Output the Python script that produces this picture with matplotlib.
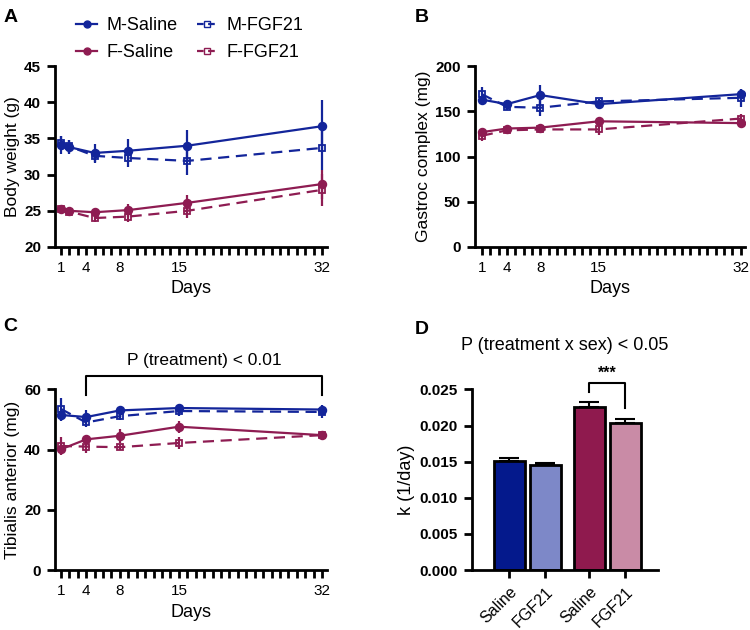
import matplotlib.pyplot as plt
from matplotlib.lines import Line2D

plt.rcParams['font.family'] = ['Liberation Sans', 'DejaVu Sans']

# ---- data ----
days_a = [1, 2, 5, 9, 16, 32]
days_bc = [1, 4, 8, 15, 32]

# A: body weight (g)
bw_m_sal = [34.1, 33.8, 33.0, 33.3, 34.0, 36.7]
bw_m_sal_err = [1.2, 1.0, 1.2, 1.6, 2.2, 3.6]
bw_m_fgf = [34.4, 33.9, 32.6, 32.3, 31.9, 33.7]
bw_m_fgf_err = [1.0, 0.9, 1.0, 1.3, 1.9, 3.0]
bw_f_sal = [25.2, 25.0, 24.8, 25.1, 26.1, 28.7]
bw_f_sal_err = [0.5, 0.5, 0.6, 0.9, 1.1, 2.0]
bw_f_fgf = [25.3, 24.9, 24.0, 24.2, 25.0, 27.9]
bw_f_fgf_err = [0.5, 0.5, 0.5, 0.8, 1.0, 2.2]

# B: gastroc complex (mg)
gc_m_sal = [163, 158, 168, 158, 169]
gc_m_sal_err = [3, 3, 11, 3, 6]
gc_m_fgf = [169, 155, 154, 161, 165]
gc_m_fgf_err = [8, 4, 9, 3, 10]
gc_f_sal = [127, 131, 132, 139, 137]
gc_f_sal_err = [5, 3, 3, 3, 5]
gc_f_fgf = [123, 129, 130, 130, 142]
gc_f_fgf_err = [6, 4, 3, 6, 5]

# C: tibialis anterior (mg)
ta_m_sal = [51.5, 50.8, 53.0, 53.8, 53.3]
ta_m_sal_err = [2.0, 2.5, 1.0, 1.5, 1.5]
ta_m_fgf = [53.5, 49.0, 51.1, 52.8, 52.5]
ta_m_fgf_err = [3.5, 1.5, 1.2, 1.5, 2.0]
ta_f_sal = [40.1, 43.4, 44.6, 47.6, 44.8]
ta_f_sal_err = [1.5, 1.0, 2.3, 2.0, 1.0]
ta_f_fgf = [41.2, 41.0, 40.8, 42.2, 44.8]
ta_f_fgf_err = [3.0, 2.0, 1.0, 2.0, 1.0]

# D: k (1/day)
k_labels = ['Saline', 'FGF21', 'Saline', 'FGF21']
k_vals = [0.01508, 0.01448, 0.0226, 0.0204]
k_err = [0.00046, 0.0004, 0.0006, 0.0005]

blue = '#13259a'
mag = '#8e1c52'
bar_colors = ['#04198c', '#7d88c8', '#8f1a4e', '#c98ba6']

fig = plt.figure(figsize=(7.5, 6.3), dpi=100)


def style_axes(ax):
    for s in ['top', 'right']:
        ax.spines[s].set_visible(False)
    for s in ['left', 'bottom']:
        ax.spines[s].set_linewidth(2.0)
    ax.tick_params(width=2.0, length=6, labelsize=11, pad=4)
    for lab in ax.get_yticklabels():
        lab.set_fontweight('bold')


def day_axis(ax, xmin=0.3, xmax=32.6):
    ax.set_xlim(xmin, xmax)
    ax.set_xticks(range(1, 33))
    ax.set_xticklabels([str(d) if d in (1, 4, 8, 15, 32) else '' for d in range(1, 33)])
    ax.set_xlabel('Days', fontsize=13)


def draw_series(ax, x, y, e, color, filled, dashed):
    ax.errorbar(x, y, yerr=e, color=color, lw=1.6, ls='--' if dashed else '-',
                marker='o' if filled else 's', ms=5.5 if filled else 5,
                mfc=color if filled else 'none', mec=color, mew=1.3,
                elinewidth=1.6, capsize=0, dashes=(5, 3) if dashed else (None, None))


# ---- A ----
axA = fig.add_axes([0.0733, 0.608, 0.363, 0.287])
draw_series(axA, days_a, bw_m_sal, bw_m_sal_err, blue, True, False)
draw_series(axA, days_a, bw_m_fgf, bw_m_fgf_err, blue, False, True)
draw_series(axA, days_a, bw_f_sal, bw_f_sal_err, mag, True, False)
draw_series(axA, days_a, bw_f_fgf, bw_f_fgf_err, mag, False, True)
axA.set_ylim(20, 45)
axA.set_yticks([20, 25, 30, 35, 40, 45])
axA.set_ylabel('Body weight (g)', fontsize=12.5, labelpad=3)
day_axis(axA)
style_axes(axA)

# ---- B ----
axB = fig.add_axes([0.633, 0.608, 0.36, 0.287])
draw_series(axB, days_bc, gc_m_sal, gc_m_sal_err, blue, True, False)
draw_series(axB, days_bc, gc_m_fgf, gc_m_fgf_err, blue, False, True)
draw_series(axB, days_bc, gc_f_sal, gc_f_sal_err, mag, True, False)
draw_series(axB, days_bc, gc_f_fgf, gc_f_fgf_err, mag, False, True)
axB.set_ylim(0, 200)
axB.set_yticks([0, 50, 100, 150, 200])
axB.set_ylabel('Gastroc complex (mg)', fontsize=12.5, labelpad=3)
day_axis(axB, 0.15, 32.5)
style_axes(axB)

# ---- C ----
axC = fig.add_axes([0.0733, 0.095, 0.363, 0.287])
draw_series(axC, days_bc, ta_m_sal, ta_m_sal_err, blue, True, False)
draw_series(axC, days_bc, ta_m_fgf, ta_m_fgf_err, blue, False, True)
draw_series(axC, days_bc, ta_f_sal, ta_f_sal_err, mag, True, False)
draw_series(axC, days_bc, ta_f_fgf, ta_f_fgf_err, mag, False, True)
axC.set_ylim(0, 60)
axC.set_yticks([0, 20, 40, 60])
axC.set_ylabel('Tibialis anterior (mg)', fontsize=12.5, labelpad=3)
day_axis(axC)
style_axes(axC)
axC.plot([4, 4, 32, 32], [58.1, 64.4, 64.4, 58.1], color='black', lw=1.5, clip_on=False)
axC.text(18, 67.0, 'P (treatment) < 0.01', ha='center', va='bottom', fontsize=12.5)

# ---- D ----
axD = fig.add_axes([0.629, 0.095, 0.248, 0.287])
xpos = [0, 1, 2.22, 3.22]
axD.bar(xpos, k_vals, width=0.86, color=bar_colors, edgecolor='black', linewidth=2.0, zorder=2)
axD.errorbar(xpos, k_vals, yerr=[[0] * 4, k_err], fmt='none', ecolor='black',
             elinewidth=1.5, capsize=7, capthick=1.5, zorder=1)
axD.set_xlim(-1.04, 4.12)
axD.set_ylim(0, 0.025)
axD.set_yticks([0, 0.005, 0.010, 0.015, 0.020, 0.025])
axD.set_yticklabels(['0.000', '0.005', '0.010', '0.015', '0.020', '0.025'])
axD.set_xticks(xpos)
axD.set_xticklabels(k_labels, rotation=45, ha='right', rotation_mode='anchor')
axD.set_ylabel('k (1/day)', fontsize=13, labelpad=3)
style_axes(axD)
axD.tick_params(axis='x', labelsize=11.5)
axD.plot([2.22, 2.22, 3.22, 3.22], [0.0247, 0.0259, 0.0259, 0.0224], color='black', lw=1.5, clip_on=False)
axD.text(2.72, 0.0262, '***', ha='center', va='bottom', fontsize=11.5, fontweight='bold')
axD.set_title('P (treatment x sex) < 0.05', fontsize=13, pad=28)

# ---- legend ----
handles = [
    Line2D([], [], color=blue, lw=1.6, marker='o', ms=5),
    Line2D([], [], color=mag, lw=1.6, marker='o', ms=5),
    Line2D([], [], color=blue, lw=1.6, ls='--', marker='s', ms=4.5, mfc='none', dashes=(3, 2)),
    Line2D([], [], color=mag, lw=1.6, ls='--', marker='s', ms=4.5, mfc='none', dashes=(3, 2)),
]
fig.legend(handles, ['M-Saline', 'F-Saline', 'M-FGF21', 'F-FGF21'], ncol=2,
           loc='center left', bbox_to_anchor=(0.08, 1 - 39 / 630), frameon=False,
           fontsize=13, handlelength=1.15, handletextpad=0.5, columnspacing=1.1,
           labelspacing=0.55)

# ---- panel letters ----
for x, y, s in [(0.005, 0.985, 'A'), (0.553, 0.985, 'B'), (0.005, 0.495, 'C'), (0.553, 0.49, 'D')]:
    fig.text(x, y, s, fontsize=14, fontweight='bold', va='top')

fig.savefig('out.png', dpi=100)
